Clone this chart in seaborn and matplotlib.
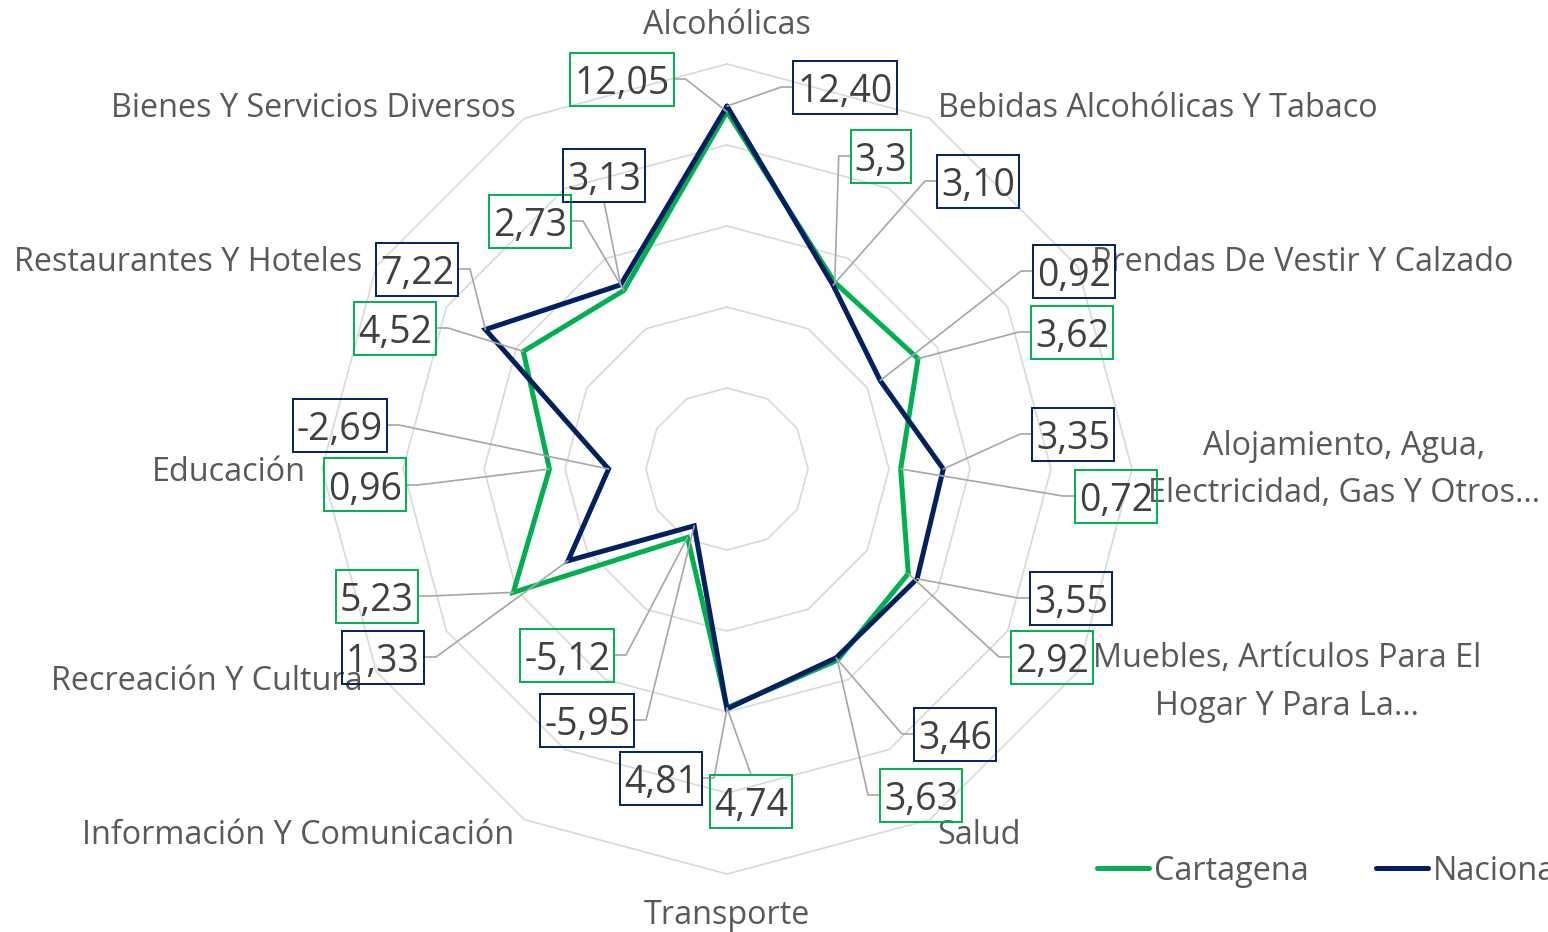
import numpy as np
import pandas as pd
import matplotlib
matplotlib.use("Agg")
import matplotlib.pyplot as plt
import seaborn as sns
from matplotlib.patches import Rectangle
from matplotlib.lines import Line2D

# ---------------- data ----------------
categorias = [
    "Alcohólicas",
    "Bebidas Alcohólicas Y Tabaco",
    "Prendas De Vestir Y Calzado",
    "Alojamiento, Agua,\nElectricidad, Gas Y Otros…",
    "Muebles, Artículos Para El\nHogar Y Para La…",
    "Salud",
    "Transporte",
    "Información Y Comunicación",
    "Recreación Y Cultura",
    "Educación",
    "Restaurantes Y Hoteles",
    "Bienes Y Servicios Diversos",
]
cartagena = [12.05, 3.3, 3.62, 0.72, 2.92, 3.63, 4.74, -5.12, 5.23, 0.96, 4.52, 2.73]
nacional = [12.40, 3.10, 0.92, 3.35, 3.55, 3.46, 4.81, -5.95, 1.33, -2.69, 7.22, 3.13]
etiquetas_cartagena = ["12,05", "3,3", "3,62", "0,72", "2,92", "3,63", "4,74",
                       "-5,12", "5,23", "0,96", "4,52", "2,73"]
etiquetas_nacional = ["12,40", "3,10", "0,92", "3,35", "3,55", "3,46", "4,81",
                      "-5,95", "1,33", "-2,69", "7,22", "3,13"]
series = ["Cartagena", "Nacional"]
anillos = [-5, 0, 5, 10, 15]
r_min, r_max = -10, 15

# ---------------- layout (pixels) ----------------
W, H = 1548, 932
CX, CY, RAD = 727, 469, 405
# centres of data label boxes (image pixel coords, y down)
pos_cartagena = [(622, 79), (881, 156), (1072, 332), (1116, 496), (1052, 657), (921, 795),
                 (751, 801), (567, 655), (377, 596), (365, 485), (395, 328), (530, 221)]
pos_nacional = [(845, 87), (978, 181), (1074, 271), (1073, 434), (1071, 598), (955, 734),
                (661, 778), (587, 720), (383, 657), (340, 425), (417, 269), (604, 175)]
# category label offsets from outer vertex (dx right, dy up, pixels) and alignment
cat_offsets = [(0, 38, "center"), (9, 10, "left"), (14, 4, "left"), (16, -1, "left"),
               (15, -11, "left"), (8, -16, "left"), (0, -42, "center"), (-10, -16, "right"),
               (-14, -10, "right"), (-16, -3, "right"), (-14, 4, "right"), (-9, 10, "right")]

colores = {"Cartagena": "#00B050", "Nacional": "#002060"}
gris_grid = "#D9D9D9"
gris_leader = "#A6A6A6"
txt_cat = "#595959"
txt_val = "#404040"

sns.set_theme(style="white")
plt.rcParams["font.family"] = ["Open Sans", "DejaVu Sans"]

fig = plt.figure(figsize=(W / 100, H / 100), dpi=100)
fig.patch.set_facecolor("white")
ax = fig.add_axes([(CX - RAD) / W, (H - CY - RAD) / H, 2 * RAD / W, 2 * RAD / H],
                  projection="polar")
ax.set_theta_zero_location("N")
ax.set_theta_direction(-1)
ax.patch.set_visible(False)

n = len(categorias)
theta = np.arange(n) * 2 * np.pi / n
theta_c = np.append(theta, 2 * np.pi)

# polygon grid
for r in anillos:
    ax.plot(theta_c, [r] * (n + 1), color=gris_grid, lw=1.2, clip_on=False, zorder=1)

df = pd.DataFrame({
    "theta": np.concatenate([theta_c, theta_c]),
    "valor": np.concatenate([np.append(cartagena, cartagena[0]), np.append(nacional, nacional[0])]),
    "serie": [series[0]] * (n + 1) + [series[1]] * (n + 1),
})
sns.lineplot(data=df, x="theta", y="valor", hue="serie", hue_order=series,
             palette=colores, sort=False, estimator=None, ax=ax, legend=False)
for ln in ax.lines[-2:]:
    ln.set_linewidth(3.6)
    ln.set_clip_on(False)
    ln.set_solid_joinstyle("miter")
    ln.set_zorder(3)

ax.set_ylim(r_min, r_max)
ax.set_xticks([])
ax.set_yticks([])
ax.grid(False)
ax.spines["polar"].set_visible(False)
ax.set_xlabel("")
ax.set_ylabel("")

# category labels
for i, cat in enumerate(categorias):
    dx, dy, ha = cat_offsets[i]
    ax.annotate(cat, xy=(theta[i], r_max), xycoords="data", xytext=(dx, dy),
                textcoords="offset pixels", ha=ha, va="center", multialignment="center",
                fontsize=23.3, color=txt_cat, linespacing=1.58, annotation_clip=False)

fig.canvas.draw()
renderer = fig.canvas.get_renderer()


def data_label(txt, cx, cy, color, th, r):
    t = fig.text(cx / W, 1 - (cy + 15) / H, txt, ha="center", va="baseline",
                 fontsize=27, color=txt_val, zorder=10)
    ext = t.get_window_extent(renderer)
    bw, bh = ext.width + 8, 53
    x0, x1 = cx - bw / 2, cx + bw / 2
    y0, y1 = cy - bh / 2, cy + bh / 2
    fig.add_artist(Rectangle((x0 / W, 1 - y1 / H), bw / W, bh / H, transform=fig.transFigure,
                             fill=False, ec=color, lw=1.4, zorder=9))
    pdx, pdy = ax.transData.transform((th, r))
    px, py = pdx, H - pdy
    if px > x1 + 4:
        pts = [(x1, cy), (min(x1 + 12, px), cy), (px, py)]
    elif px < x0 - 4:
        pts = [(x0, cy), (max(x0 - 12, px), cy), (px, py)]
    else:
        sy = y0 if py < y0 else y1
        pts = [(cx, sy), (px, py)]
    xs = [p[0] / W for p in pts]
    ys = [1 - p[1] / H for p in pts]
    fig.add_artist(Line2D(xs, ys, transform=fig.transFigure, color=gris_leader, lw=1.2, zorder=8))


for i in range(n):
    data_label(etiquetas_cartagena[i], *pos_cartagena[i], colores["Cartagena"], theta[i], cartagena[i])
    data_label(etiquetas_nacional[i], *pos_nacional[i], colores["Nacional"], theta[i], nacional[i])

handles = [Line2D([0], [0], color=colores[s], lw=3.6, solid_capstyle="round") for s in series]
leg = fig.legend(handles, series, loc="center left", bbox_to_anchor=(1097 / W, 1 - 871 / H),
                 ncol=2, frameon=False, fontsize=23.3, handlelength=1.6, handletextpad=0.15,
                 columnspacing=2.1, borderpad=0, borderaxespad=0)
for t in leg.get_texts():
    t.set_color(txt_cat)

fig.savefig("out.png", dpi=100)
